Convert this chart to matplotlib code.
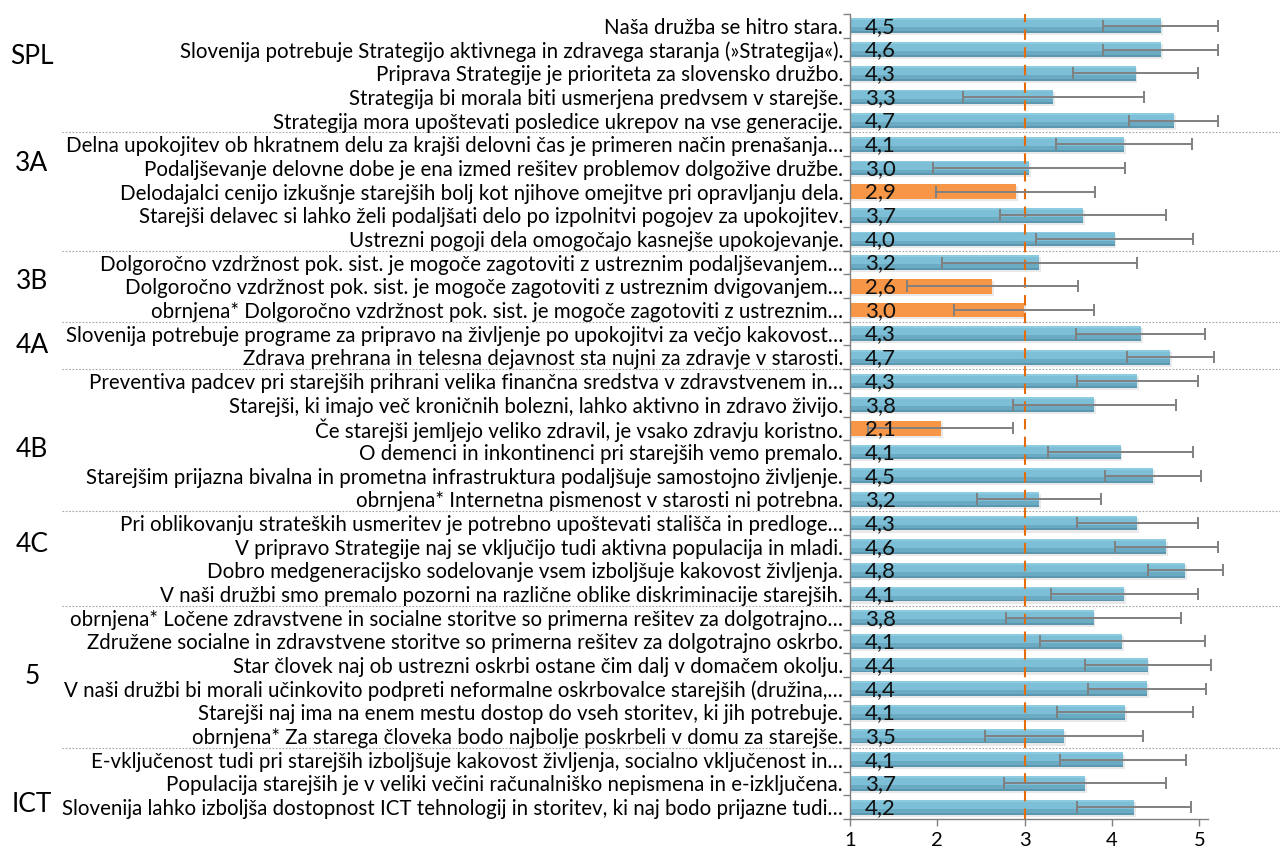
import matplotlib
matplotlib.use("Agg")
import matplotlib.pyplot as plt
import matplotlib.transforms as mtrans
import numpy as np

plt.rcParams['font.family'] = ['Lato', 'DejaVu Sans']

# data
statements = [
    "Naša družba se hitro stara.",
    "Slovenija potrebuje Strategijo aktivnega in zdravega staranja (»Strategija«).",
    "Priprava Strategije je prioriteta za slovensko družbo.",
    "Strategija bi morala biti usmerjena predvsem v starejše.",
    "Strategija mora upoštevati posledice ukrepov na vse generacije.",
    "Delna upokojitev ob hkratnem delu za krajši delovni čas je primeren način prenašanja…",
    "Podaljševanje delovne dobe je ena izmed rešitev problemov dolgožive družbe.",
    "Delodajalci cenijo izkušnje starejših bolj kot njihove omejitve pri opravljanju dela.",
    "Starejši delavec si lahko želi podaljšati delo po izpolnitvi pogojev za upokojitev.",
    "Ustrezni pogoji dela omogočajo kasnejše upokojevanje.",
    "Dolgoročno vzdržnost pok. sist. je mogoče zagotoviti z ustreznim podaljševanjem…",
    "Dolgoročno vzdržnost pok. sist. je mogoče zagotoviti z ustreznim dvigovanjem…",
    "obrnjena* Dolgoročno vzdržnost pok. sist. je mogoče zagotoviti z ustreznim…",
    "Slovenija potrebuje programe za pripravo na življenje po upokojitvi za večjo kakovost…",
    "Zdrava prehrana in telesna dejavnost sta nujni za zdravje v starosti.",
    "Preventiva padcev pri starejših prihrani velika finančna sredstva v zdravstvenem in…",
    "Starejši, ki imajo več kroničnih bolezni, lahko aktivno in zdravo živijo.",
    "Če starejši jemljejo veliko zdravil, je vsako zdravju koristno.",
    "O demenci in inkontinenci pri starejših vemo premalo.",
    "Starejšim prijazna bivalna in prometna infrastruktura podaljšuje samostojno življenje.",
    "obrnjena* Internetna pismenost v starosti ni potrebna.",
    "Pri oblikovanju strateških usmeritev je potrebno upoštevati stališča in predloge…",
    "V pripravo Strategije naj se vključijo tudi aktivna populacija in mladi.",
    "Dobro medgeneracijsko sodelovanje vsem izboljšuje kakovost življenja.",
    "V naši družbi smo premalo pozorni na različne oblike diskriminacije starejših.",
    "obrnjena* Ločene zdravstvene in socialne storitve so primerna rešitev za dolgotrajno…",
    "Združene socialne in zdravstvene storitve so primerna rešitev za dolgotrajno oskrbo.",
    "Star človek naj ob ustrezni oskrbi ostane čim dalj v domačem okolju.",
    "V naši družbi bi morali učinkovito podpreti neformalne oskrbovalce starejših (družina,…",
    "Starejši naj ima na enem mestu dostop do vseh storitev, ki jih potrebuje.",
    "obrnjena* Za starega človeka bodo najbolje poskrbeli v domu za starejše.",
    "E-vključenost tudi pri starejših izboljšuje kakovost življenja, socialno vključenost in…",
    "Populacija starejših je v veliki večini računalniško nepismena in e-izključena.",
    "Slovenija lahko izboljša dostopnost ICT tehnologij in storitev, ki naj bodo prijazne tudi…",
]

means = [4.56, 4.56, 4.27, 3.33, 4.71,
         4.14, 3.05, 2.90, 3.67, 4.03,
         3.17, 2.63, 2.99,
         4.33, 4.67,
         4.29, 3.80, 2.04, 4.10, 4.47, 3.17,
         4.29, 4.62, 4.84, 4.14,
         3.79, 4.12, 4.41, 4.40, 4.15, 3.45,
         4.13, 3.69, 4.25]

errors = [0.66, 0.66, 0.72, 1.04, 0.51,
          0.78, 1.10, 0.91, 0.95, 0.90,
          1.12, 0.98, 0.80,
          0.74, 0.50,
          0.69, 0.93, 0.83, 0.83, 0.55, 0.71,
          0.69, 0.59, 0.43, 0.84,
          1.00, 0.94, 0.72, 0.68, 0.78, 0.90,
          0.72, 0.93, 0.65]

value_labels = ["4,5", "4,6", "4,3", "3,3", "4,7",
                "4,1", "3,0", "2,9", "3,7", "4,0",
                "3,2", "2,6", "3,0",
                "4,3", "4,7",
                "4,3", "3,8", "2,1", "4,1", "4,5", "3,2",
                "4,3", "4,6", "4,8", "4,1",
                "3,8", "4,1", "4,4", "4,4", "4,1", "3,5",
                "4,1", "3,7", "4,2"]

groups = ["SPL", "3A", "3B", "4A", "4B", "4C", "5", "ICT"]
group_sizes = [5, 5, 3, 2, 6, 4, 6, 3]
# where the group names sit (in row units), they are not centred exactly
group_label_rows = [1.3, 5.8, 10.8, 13.5, 17.9, 21.9, 27.5, 32.9]

neutral = 3
xticks = [1, 2, 3, 4, 5]

# colours
blue = '#7cbfd7'
blue_mid = '#6aaac3'
blue_dark = '#5b98b0'
blue_light = '#8dcbe0'
orange = '#f79646'
grey = '#808080'

n = len(statements)
y = np.arange(n)
widths = np.array(means) - 1
h = 0.62

fig = plt.figure(figsize=(12.8, 8.56), dpi=100)
ax = fig.add_axes([850 / 1280, 37 / 856, 358 / 1280, 805 / 856])

low = np.array(means) < neutral
# soft shadow below the bars
ax.barh(y + 0.09, widths + 0.02, left=1, height=h, color='#c8c8c8', alpha=0.4, zorder=1)
ax.barh(y[~low], widths[~low], left=1, height=h, color=blue, zorder=2)
ax.barh(y[~low] + 0.19, widths[~low], left=1, height=0.24, color=blue_mid, zorder=2)
ax.barh(y[~low] + 0.27, widths[~low], left=1, height=0.08, color=blue_dark, zorder=2)
ax.barh(y[~low] - 0.27, widths[~low], left=1, height=0.08, color=blue_light, zorder=2)
ax.barh(y[low], widths[low], left=1, height=h, color=orange, zorder=2)

eb = ax.errorbar(means, y, xerr=errors, fmt='none', ecolor=grey, elinewidth=1.4,
                 capsize=4.3, capthick=1.4, zorder=4)
for art in eb.get_children():
    art.set_clip_on(False)

ax.axvline(neutral, color='#e46c0a', lw=1.5, dashes=(5, 3.5), zorder=3)

for yy, lab in zip(y, value_labels):
    ax.text(1.17, yy + 0.04, lab, ha='left', va='center', fontsize=16,
            color='#111111', zorder=5)

ax.set_xlim(1, 5.1)
ax.set_ylim(n - 0.5, -0.5)
ax.set_xticks(xticks)
ax.set_xticklabels([str(t) for t in xticks], fontsize=14.5)
ax.set_yticks(y)
ax.set_yticklabels(statements, fontsize=14.8)
ax.set_yticks(np.arange(n + 1) - 0.5, minor=True)
ax.tick_params(axis='y', which='major', length=0, pad=5)
ax.tick_params(axis='y', which='minor', length=5, color=grey, width=1)
ax.tick_params(axis='x', length=5, color=grey, width=1, pad=4)

for s in ['top', 'right']:
    ax.spines[s].set_visible(False)
for s in ['left', 'bottom']:
    ax.spines[s].set_color(grey)
    ax.spines[s].set_linewidth(1)

# group separators and names
tr = mtrans.blended_transform_factory(fig.transFigure, ax.transData)
bounds = np.cumsum(group_sizes)[:-1] - 0.5
for b in bounds:
    ax.plot([62 / 1280, 1.0], [b, b], transform=tr, color='#a6a6a6', lw=0.8,
            ls=(0, (1.5, 1.5)), clip_on=False, zorder=0)
for g, r in zip(groups, group_label_rows):
    ax.text(32 / 1280, r, g, transform=tr, ha='center', va='center', fontsize=19)

fig.savefig("out.png", dpi=100)
